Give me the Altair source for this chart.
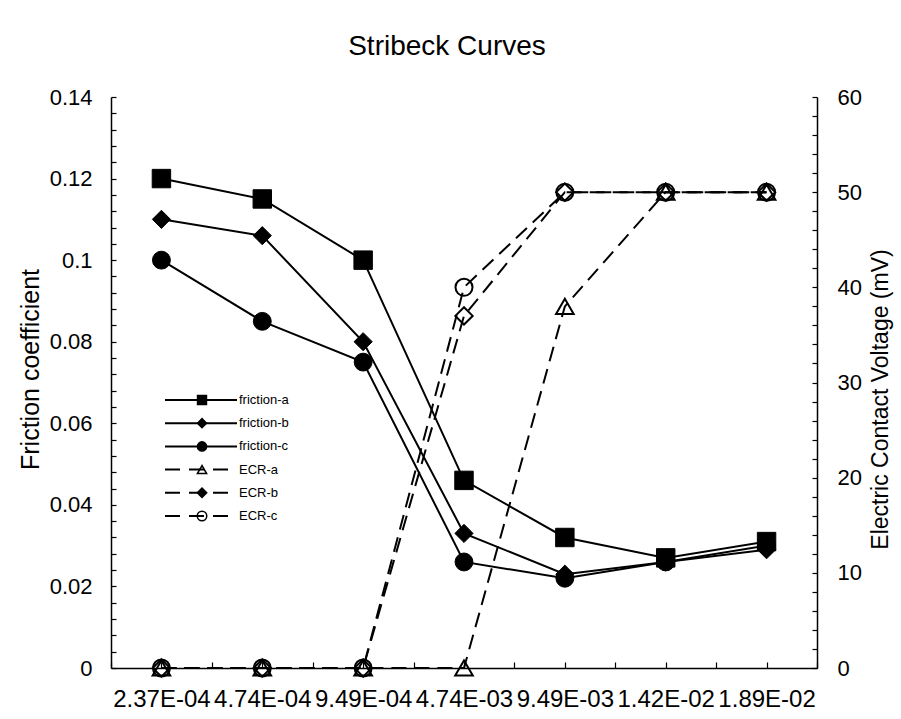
import json

import altair as alt
import pandas as pd

# ---- data -------------------------------------------------------------
x_labels = ["2.37E-04", "4.74E-04", "9.49E-04", "4.74E-03",
            "9.49E-03", "1.42E-02", "1.89E-02"]

friction_a = [0.120, 0.115, 0.100, 0.046, 0.032, 0.027, 0.031]
friction_b = [0.110, 0.106, 0.080, 0.033, 0.023, 0.026, 0.029]
friction_c = [0.100, 0.085, 0.075, 0.026, 0.022, 0.026, 0.030]

ecr_a = [0, 0, 0, 0, 38, 50, 50]
ecr_b = [0, 0, 0, 37, 50, 50, 50]
ecr_c = [0, 0, 0, 40, 50, 50, 50]

friction_names = ["friction-a", "friction-b", "friction-c"]
ecr_names = ["ECR-a", "ECR-b", "ECR-c"]

# ---- tables -----------------------------------------------------------
n = len(x_labels)


def long_table(names, series):
    rows = []
    for name, vals in zip(names, series):
        for i, v in enumerate(vals):
            rows.append({"idx": i, "series": name, "value": v})
    return pd.DataFrame(rows)


friction_df = long_table(friction_names, [friction_a, friction_b, friction_c])
ecr_df = long_table(ecr_names, [ecr_a, ecr_b, ecr_c])

all_names = friction_names + ecr_names
legend_df = pd.DataFrame({
    "series": all_names,
    "kind": ["solid"] * 3 + ["dashed"] * 3,
})

# ---- styling ----------------------------------------------------------
FONT = "Liberation Sans"
W, H = 706, 571
PAD = {"left": 111, "top": 97, "right": 84, "bottom": 51}

shapes = ["square", "diamond", "circle", "triangle-up", "diamond", "circle"]
plot_fills = ["black", "black", "black", "transparent", "transparent", "transparent"]
legend_fills = ["black", "black", "black", "transparent", "black", "transparent"]
plot_sizes = [340, 290, 320, 240, 190, 260]
legend_sizes = [80, 90, 100, 70, 80, 80]

shape_enc = alt.Shape("series:N", scale=alt.Scale(domain=all_names, range=shapes), legend=None)
x_scale = alt.Scale(domain=[-0.5, n - 0.5], nice=False, zero=False)
left_scale = alt.Scale(domain=[0, 0.14], nice=False, zero=True)
right_scale = alt.Scale(domain=[0, 60], nice=False, zero=True)

main_x_axis = alt.Axis(
    orient="bottom", values=list(range(n)),
    labelExpr=f"{json.dumps(x_labels)}[datum.value]",
    ticks=False, grid=False, domain=True, domainColor="black", domainWidth=1.5,
    labelFontSize=24, labelPadding=19, labelColor="black", labelFont=FONT,
    labelOverlap=False, labelFlush=False, title=None,
)

left_axis = alt.Axis(
    orient="left", values=[0, 0.02, 0.04, 0.06, 0.08, 0.1, 0.12, 0.14], format=".2~f",
    ticks=False, grid=False, domain=True, domainColor="black", domainWidth=1.5,
    labelFontSize=22, labelPadding=19, labelColor="black", labelFont=FONT,
    title="Friction coefficient", titleFont=FONT, titleFontSize=25,
    titleFontWeight="normal", titleColor="black", titleAngle=270,
    titleX=-81, titleY=272, titleAlign="center", titleBaseline="middle",
)

right_axis = alt.Axis(
    orient="right", values=list(range(0, 61, 10)), format="d",
    ticks=False, grid=False, domain=True, domainColor="black", domainWidth=1.5,
    labelFontSize=22, labelPadding=20, labelColor="black", labelFont=FONT,
    title="Electric Contact Voltage (mV)", titleFont=FONT, titleFontSize=23,
    titleFontWeight="normal", titleColor="black", titleAngle=270,
    titleX=63, titleY=302, titleAlign="center", titleBaseline="middle",
)

# ---- friction curves (left axis) ------------------------------------
fric_base = alt.Chart(friction_df).encode(
    x=alt.X("idx:Q", scale=x_scale, axis=main_x_axis),
    y=alt.Y("value:Q", scale=left_scale, axis=left_axis),
    detail="series:N",
)
fric_lines = fric_base.mark_line(color="black", strokeWidth=2)
fric_points = fric_base.mark_point(filled=True, opacity=1, strokeWidth=1).encode(
    shape=shape_enc,
    fill=alt.Fill("series:N", scale=alt.Scale(domain=all_names, range=plot_fills), legend=None),
    size=alt.Size("series:N", scale=alt.Scale(domain=all_names, range=plot_sizes), legend=None),
    stroke=alt.value("black"),
)
friction_layer = alt.layer(fric_lines, fric_points)

# ---- electric contact voltage curves (right axis) --------------------
ecr_base = alt.Chart(ecr_df).encode(
    x=alt.X("idx:Q", scale=x_scale, axis=None),
    y=alt.Y("value:Q", scale=right_scale, axis=right_axis),
    detail="series:N",
)
ecr_lines = ecr_base.mark_line(color="black", strokeWidth=2, strokeDash=[15, 8])
ecr_points = ecr_base.mark_point(filled=True, opacity=1, strokeWidth=2).encode(
    shape=shape_enc,
    fill=alt.Fill("series:N", scale=alt.Scale(domain=all_names, range=plot_fills), legend=None),
    size=alt.Size("series:N", scale=alt.Scale(domain=all_names, range=plot_sizes), legend=None),
    stroke=alt.value("black"),
)
ecr_layer = alt.layer(ecr_lines, ecr_points)

# ---- inward tick marks on all three axes -----------------------------
left_ticks = alt.Chart(friction_df).mark_point(opacity=0).encode(
    x=alt.X("idx:Q", scale=x_scale, axis=alt.Axis(
        orient="bottom", values=[i / 2 - 0.5 for i in range(2 * n + 1)],
        labels=False, domain=False, grid=False, ticks=True, tickSize=6,
        tickColor="black", tickWidth=1.2, offset=-6, title=None)),
    y=alt.Y("value:Q", scale=left_scale, axis=alt.Axis(
        orient="left", values=[round(i * 0.004, 3) for i in range(36)],
        labels=False, domain=False, grid=False, ticks=True, tickSize=5,
        tickColor="black", tickWidth=1.2, offset=-5, title=None)),
)
right_ticks = alt.Chart(ecr_df).mark_point(opacity=0).encode(
    x=alt.X("idx:Q", scale=x_scale, axis=None),
    y=alt.Y("value:Q", scale=right_scale, axis=alt.Axis(
        orient="right", values=list(range(0, 61, 2)),
        labels=False, domain=False, grid=False, ticks=True, tickSize=5,
        tickColor="black", tickWidth=1.2, offset=-5, title=None)),
)

# ---- legend drawn inside the plot -------------------------------------
leg_y = alt.Y("series:N", scale=alt.Scale(type="point", domain=all_names,
                                          range=[303, 419], padding=0), axis=None)
leg_base = alt.Chart(legend_df).encode(y=leg_y)
leg_lines = leg_base.mark_rule(color="black", strokeWidth=2).encode(
    x=alt.value(54), x2=alt.value(126),
    strokeDash=alt.StrokeDash("kind:N", scale=alt.Scale(domain=["solid", "dashed"],
                                                        range=[[1, 0], [15, 9]]), legend=None),
)
leg_points = leg_base.mark_point(filled=True, opacity=1, strokeWidth=1.5).encode(
    x=alt.value(91),
    shape=shape_enc,
    fill=alt.Fill("series:N", scale=alt.Scale(domain=all_names, range=legend_fills), legend=None),
    size=alt.Size("series:N", scale=alt.Scale(domain=all_names, range=legend_sizes), legend=None),
    stroke=alt.value("black"),
)
leg_text = leg_base.mark_text(align="left", baseline="middle", font=FONT,
                              fontSize=13, color="black").encode(
    x=alt.value(128), text="series:N",
)
legend_layer = alt.layer(leg_lines, leg_points, leg_text)

chart = (
    alt.layer(friction_layer, ecr_layer, left_ticks, right_ticks, legend_layer)
    .resolve_scale(x="independent", y="independent", fill="independent", size="independent")
    .properties(
        width=W, height=H,
        padding=PAD,
        autosize=alt.AutoSizeParams(type="none"),
        background="white",
        title=alt.TitleParams("Stribeck Curves", font=FONT, fontSize=28,
                              fontWeight="normal", color="black", anchor="middle",
                              baseline="alphabetic", dx=-17, offset=3),
    )
    .configure_view(stroke=None)
)

chart.save("out.html", embed_options={"renderer": "svg", "actions": False})
